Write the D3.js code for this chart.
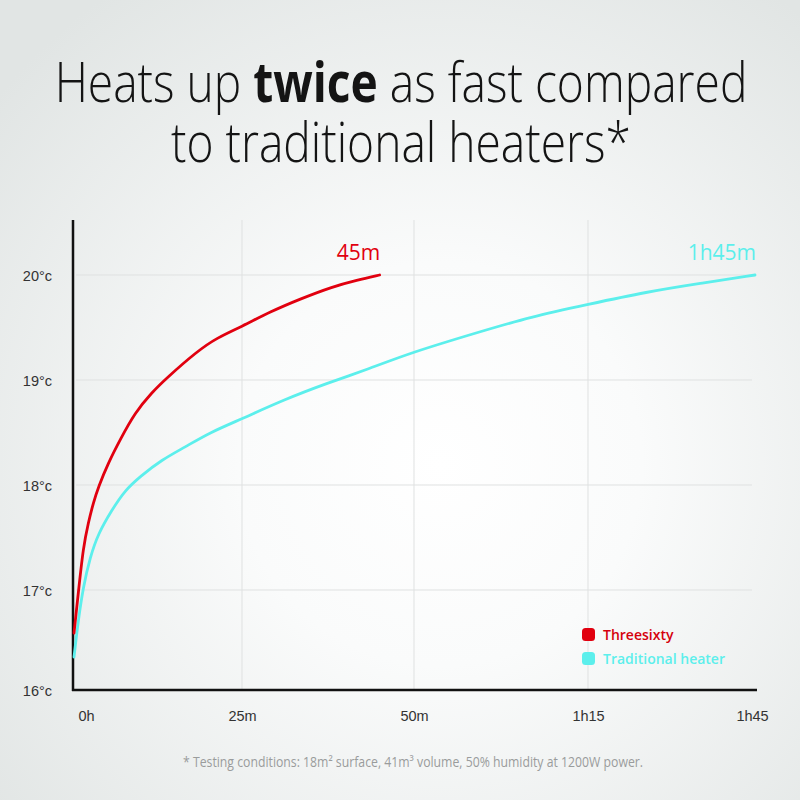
<!DOCTYPE html>
<html>
<head>
  <meta charset="UTF-8">
  <style>
    body { margin: 0; background: #eef0ef; }
    svg { display: block; font-family: 'Open Sans', sans-serif; }
    .tick text { fill: #333; font-size: 14.5px; }
  </style>
  <script src="https://d3js.org/d3.v7.min.js"></script>
</head>
<body>
<div id="chart"></div>
<script>
// time in minutes, temperature in °C
const threesixtyMinutes = [0, 0.64, 1.38, 2.13, 2.87, 3.62, 5.1, 6.85, 9.08, 11.56, 13.8, 18.26, 21.2, 25, 29.1, 33.4, 38.2, 41.7, 45];
const threesixtyTemps   = [16.57, 16.97, 17.41, 17.64, 17.83, 17.98, 18.21, 18.43, 18.69, 18.88, 19.02, 19.27, 19.4, 19.51, 19.65, 19.77, 19.89, 19.95, 20.0];

const traditionalMinutes = [0, 0.64, 1.38, 2.38, 3.62, 5.61, 7.59, 9.82, 13.05, 16.5, 20.2, 25, 31, 37.4, 43.2, 49.5, 59.5, 66.7, 75, 85.6, 95.1, 105];
const traditionalTemps   = [16.33, 16.7, 17.03, 17.31, 17.54, 17.76, 17.95, 18.08, 18.24, 18.36, 18.5, 18.63, 18.81, 18.97, 19.1, 19.26, 19.46, 19.6, 19.72, 19.84, 19.92, 20.0];

const xTickValues = [0, 25, 50, 75, 105];
const xTickLabels = ['0h', '25m', '50m', '1h15', '1h45'];
const yTickValues = [16, 17, 18, 19, 20];

const seriesNames = ['Threesixty', 'Traditional heater'];
const endLabels = ['45m', '1h45m'];
const colors = ['#e1000f', '#5cefec'];

const width = 800, height = 800;

const svg = d3.select('#chart').append('svg')
  .attr('width', width)
  .attr('height', height);

// background glow
const defs = svg.append('defs');
const grad = defs.append('radialGradient')
  .attr('id', 'bg')
  .attr('cx', '55%').attr('cy', '58%').attr('r', '72%');
grad.append('stop').attr('offset', '0%').attr('stop-color', '#ffffff');
grad.append('stop').attr('offset', '35%').attr('stop-color', '#fafbfb');
grad.append('stop').attr('offset', '100%').attr('stop-color', '#e1e5e4');
svg.append('rect').attr('width', width).attr('height', height).attr('fill', 'url(#bg)');

// title: one text element, squeezed horizontally like the original lettering
const title = svg.append('text')
  .attr('text-anchor', 'middle')
  .style('font-size', '56px').style('font-weight', 300).style('fill', '#141414');
const line1 = title.append('tspan').attr('x', 0).attr('y', 102);
line1.append('tspan').text('Heats up ');
line1.append('tspan').style('font-weight', 700).text('twice');
line1.append('tspan').text(' as fast compared');
title.append('tspan').attr('x', 0).attr('y', 162).text('to traditional heaters*');
const line1Width = line1.node().getComputedTextLength();
title.attr('transform', `translate(401,0) scale(${693 / line1Width},1)`);

// scales: the ticks are spread evenly even though the last step is 30 minutes
const x = d3.scaleLinear().domain(xTickValues).range([74, 242, 414, 588, 755]);
const y = d3.scaleLinear().domain(yTickValues).range([690, 590, 485, 380, 275]);
const plotTop = 220;
const axisX = 73;

// grid
svg.append('g')
  .selectAll('line')
  .data(yTickValues.slice(1))
  .join('line')
  .attr('x1', axisX + 3).attr('x2', x(105) - 3)
  .attr('y1', d => y(d)).attr('y2', d => y(d))
  .attr('stroke', '#dfe1e1').attr('stroke-width', 1);

svg.append('g')
  .selectAll('line')
  .data(xTickValues.slice(1, -1))
  .join('line')
  .attr('x1', d => x(d)).attr('x2', d => x(d))
  .attr('y1', plotTop).attr('y2', y(16))
  .attr('stroke', '#dfe1e1').attr('stroke-width', 1);

// axes
const xAxis = svg.append('g')
  .attr('transform', `translate(0,${y(16)})`)
  .call(d3.axisBottom(x)
    .tickValues(xTickValues)
    .tickFormat((d, i) => xTickLabels[i])
    .tickSize(0)
    .tickPadding(21));
xAxis.select('.domain').remove();
xAxis.selectAll('.tick').filter(d => d === 0).select('text').attr('dx', 12);
xAxis.selectAll('.tick').filter(d => d === 105).select('text').attr('dx', -3);

const yAxis = svg.append('g')
  .attr('transform', `translate(${axisX},0)`)
  .call(d3.axisLeft(y)
    .tickValues(yTickValues)
    .tickFormat(d => d + '°c')
    .tickSize(0)
    .tickPadding(21));
yAxis.select('.domain').remove();
yAxis.selectAll('.tick text').attr('dy', '0.35em');

svg.append('line')
  .attr('x1', axisX).attr('x2', axisX)
  .attr('y1', plotTop).attr('y2', y(16) + 1)
  .attr('stroke', '#111').attr('stroke-width', 2.5);
svg.append('line')
  .attr('x1', axisX - 1).attr('x2', x(105) + 2)
  .attr('y1', y(16)).attr('y2', y(16))
  .attr('stroke', '#111').attr('stroke-width', 2.5);

// curves
const series = [
  threesixtyMinutes.map((m, i) => [m, threesixtyTemps[i]]),
  traditionalMinutes.map((m, i) => [m, traditionalTemps[i]])
];

const line = d3.line()
  .x(d => x(d[0]))
  .y(d => y(d[1]))
  .curve(d3.curveBasis);

// draw the traditional heater first so red sits on top
[1, 0].forEach(i => {
  svg.append('path')
    .datum(series[i])
    .attr('d', line)
    .attr('fill', 'none')
    .attr('stroke', colors[i])
    .attr('stroke-width', 2.8)
    .attr('stroke-linecap', 'round');
});

// end labels
svg.append('text')
  .attr('x', x(45) - 21).attr('y', 260)
  .attr('text-anchor', 'middle')
  .style('font-size', '21px').style('fill', colors[0])
  .text(endLabels[0]);
svg.append('text')
  .attr('x', x(105) + 1).attr('y', 260)
  .attr('text-anchor', 'end')
  .style('font-size', '21px').style('fill', colors[1])
  .text(endLabels[1]);

// legend
const legend = svg.append('g').attr('transform', 'translate(582,628)');
seriesNames.forEach((name, i) => {
  const row = legend.append('g').attr('transform', `translate(0,${i * 24})`);
  row.append('rect')
    .attr('width', 13).attr('height', 13).attr('rx', 3.5)
    .attr('fill', colors[i]);
  row.append('text')
    .attr('x', 21).attr('y', 12)
    .style('font-size', '14px').style('font-weight', 600)
    .style('fill', i === 0 ? '#d5000d' : colors[i])
    .text(name);
});

// footnote
svg.append('text')
  .attr('x', 183).attr('y', 767)
  .attr('textLength', 460).attr('lengthAdjust', 'spacingAndGlyphs')
  .style('font-size', '14px').style('fill', '#9a9c9c')
  .text('* Testing conditions: 18m² surface, 41m³ volume, 50% humidity at 1200W power.');
</script>
</body>
</html>
